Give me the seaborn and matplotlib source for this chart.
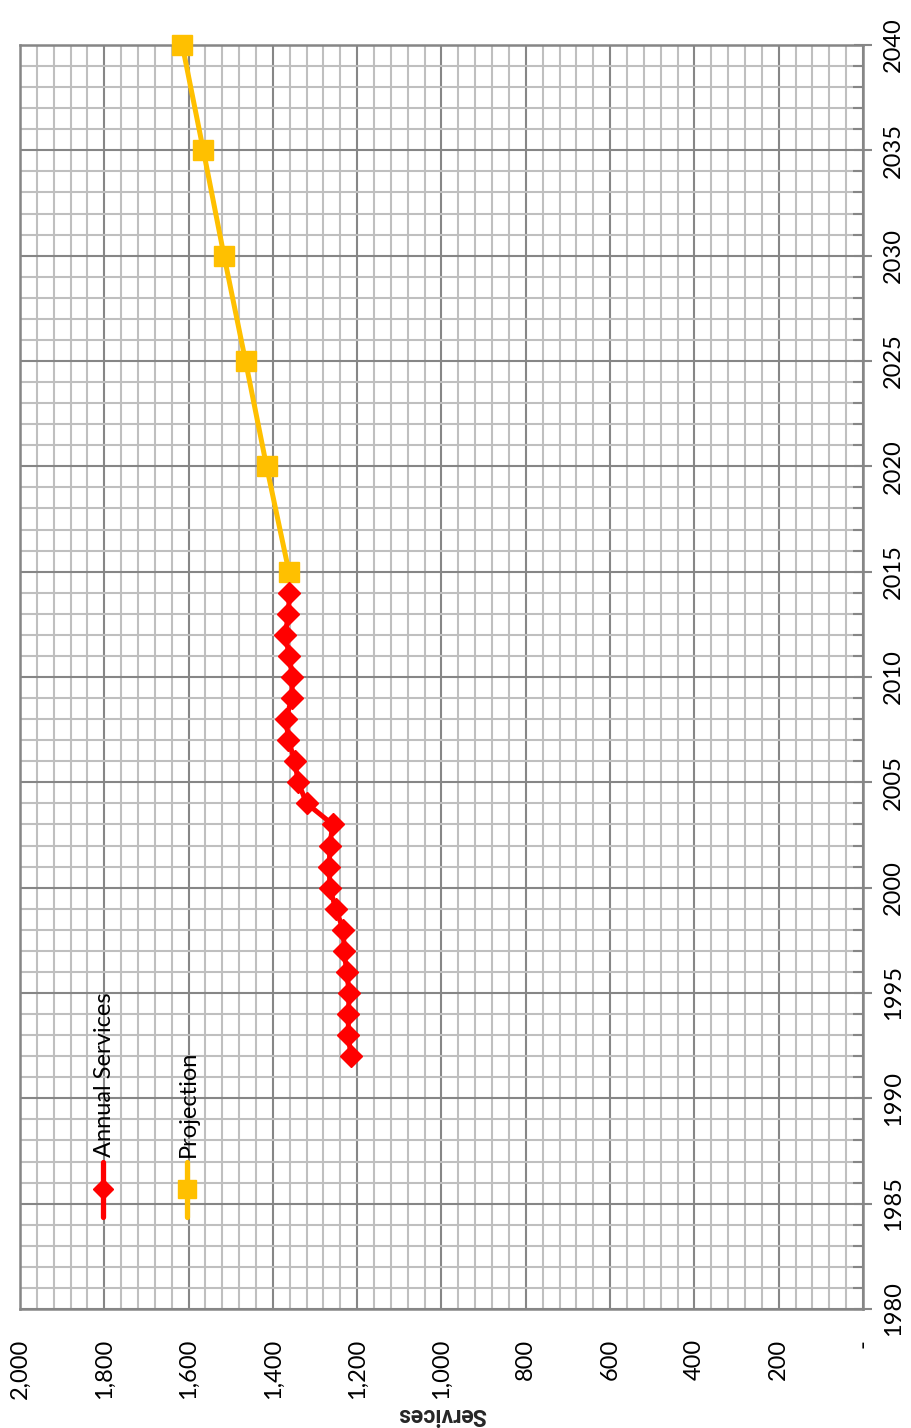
import matplotlib
matplotlib.use("Agg")
import matplotlib.pyplot as plt
from matplotlib.ticker import MultipleLocator, FuncFormatter
from matplotlib.lines import Line2D
import seaborn as sns
import pandas as pd

# ---- data ----
annual_years = [1992, 1993, 1994, 1995, 1996, 1997, 1998, 1999, 2000, 2001, 2002,
                2003, 2004, 2005, 2006, 2007, 2008, 2009, 2010, 2011, 2012, 2013, 2014]
annual_services = [1215, 1221, 1221, 1219, 1225, 1231, 1233, 1251, 1265, 1266, 1265,
                   1258, 1320, 1340, 1348, 1363, 1369, 1355, 1354, 1361, 1371, 1363, 1361]
proj_years = [2015, 2020, 2025, 2030, 2035, 2040]
proj_services = [1362, 1415, 1465, 1516, 1565, 1615]
series_names = ["Annual Services", "Projection"]
axis_title = "Services"

sns.set_style("white")
plt.rcParams["font.family"] = ["Lato", "DejaVu Sans"]

RED = "#FF0000"
ORANGE = "#FFC000"
MAJ = "#868686"
MIN = "#BFBFBF"
FS = 17

fig = plt.figure(figsize=(9.12, 14.28), dpi=100)
ax = fig.add_axes([20/912, 1-1309/1428, (863-20)/912, (1309-45)/1428])

df_a = pd.DataFrame({"year": annual_years, "services": annual_services})
df_p = pd.DataFrame({"year": proj_years, "services": proj_services})

sns.lineplot(data=df_a, x="services", y="year", orient="y", ax=ax, color=RED,
             lw=3.6, marker="D", markersize=11, markeredgecolor=RED,
             markeredgewidth=1, zorder=4, clip_on=False)
sns.lineplot(data=df_p, x="services", y="year", orient="y", ax=ax, color=ORANGE,
             lw=3.6, marker="s", markersize=14, markeredgecolor=ORANGE,
             markeredgewidth=1, zorder=3, clip_on=False)

ax.set_xlim(2000, 0)
ax.set_ylim(1980, 2040)
ax.xaxis.set_major_locator(MultipleLocator(200))
ax.xaxis.set_minor_locator(MultipleLocator(40))
ax.yaxis.set_major_locator(MultipleLocator(5))
ax.yaxis.set_minor_locator(MultipleLocator(1))
ax.xaxis.set_major_formatter(FuncFormatter(lambda v, p: "-" if abs(v) < 1e-9 else f"{v:,.0f}"))
ax.yaxis.set_major_formatter(FuncFormatter(lambda v, p: f"{v:.0f}"))
ax.yaxis.tick_right()
ax.yaxis.set_label_position("right")
ax.set_ylabel("")

ax.grid(which="major", color=MAJ, lw=1.5)
ax.grid(which="minor", color=MIN, lw=1.5)
ax.set_axisbelow(True)
for s in ax.spines.values():
    s.set_color(MAJ)
    s.set_linewidth(1.8)

ax.tick_params(axis="both", which="major", direction="inout", length=13, width=1.5,
               color=MAJ, labelsize=FS, labelcolor="black")
ax.tick_params(axis="both", which="minor", direction="in", length=7, width=1.5, color=MAJ)
ax.tick_params(axis="x", which="major", pad=15, labelrotation=90)
ax.tick_params(axis="y", which="major", pad=8, labelrotation=90)
ax.tick_params(axis="y", which="both", left=False, right=True)
for lab in ax.get_yticklabels():
    lab.set_va("center")
for lab in ax.get_xticklabels():
    lab.set_va("top")

ax.set_xlabel(axis_title, rotation=180, fontweight="bold", fontsize=FS - 0.5,
              family=["Roboto", "DejaVu Sans"], va="center", ha="center")
ax.xaxis.set_label_coords(0.5, (1309 - 1414) / 1264)

# ---- legend (rotated, drawn manually) ----
leg = [(0.0988, RED, "D", 11, series_names[0]), (0.1977, ORANGE, "s", 14, series_names[1])]
for xa, col, mk, ms, name in leg:
    ax.add_line(Line2D([xa, xa], [0.0728, 0.1163], transform=ax.transAxes, color=col,
                       lw=3.8, solid_capstyle="round", zorder=6, clip_on=False))
    ax.add_line(Line2D([xa], [0.0949], transform=ax.transAxes, color=col, marker=mk,
                       markersize=ms * 0.9, markeredgecolor=col, ls="none", zorder=7,
                       clip_on=False))
    ax.text(xa + 0.002, 0.1203, name, transform=ax.transAxes, rotation=90, ha="center",
            va="bottom", fontsize=FS, color="black", zorder=7)

fig.savefig("out.png", dpi=100)
